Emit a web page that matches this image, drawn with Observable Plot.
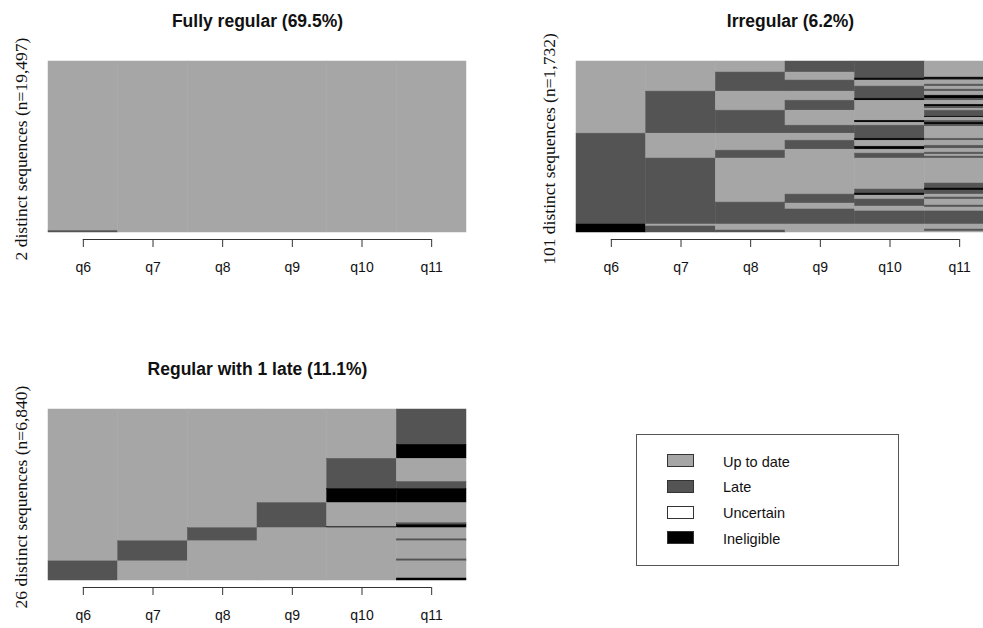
<!DOCTYPE html>
<html><head><meta charset="utf-8">
<script src="https://cdn.jsdelivr.net/npm/d3@7"></script>
<script src="https://cdn.jsdelivr.net/npm/@observablehq/plot@0.6"></script>
<style>
body{margin:0;background:#fff;}
#chart{position:relative;width:983px;height:628px;overflow:hidden;background:#fff;font-family:"Liberation Sans",Arial,sans-serif;}
#chart svg{position:absolute;overflow:visible;background:transparent;}
.legend{position:absolute;left:636px;top:434px;width:263px;height:132px;box-sizing:border-box;border:1px solid #555;}
.legend .sw{position:absolute;left:30px;width:27px;height:13px;box-sizing:border-box;border:1px solid #333;}
.legend .lb{position:absolute;left:86px;font-size:14.5px;color:#111;line-height:16px;}
</style></head><body><div id="chart"></div>
<script>
// ---- categories ----
const columns = ["q6", "q7", "q8", "q9", "q10", "q11"];
const stateCodes = ["U", "L", "X", "I"];
const stateNames = ["Up to date", "Late", "Uncertain", "Ineligible"];
const stateColors = ["#a6a6a6", "#545454", "#ffffff", "#000000"];

// ---- panel 1: Fully regular (sequences listed top to bottom) ----
const fullyTitle = "Fully regular (69.5%)";
const fullyDistinct = 2;
const fullySeqs = ["UUUUUU", "LUUUUU"];
const fullyCounts = [19327, 170];

// ---- panel 2: Irregular ----
const irregTitle = "Irregular (6.2%)";
const irregDistinct = 101;
const irregSeqs = [
  "UUULLU","UULULU","UULULI","UULUII","UULUIL","UULLUU","UULLUL","UULLLU","UULLLL",
  "ULUULU","ULUULI","ULUUIL","ULULUU","ULULUI","ULULUL","ULULUU","ULLUUL","ULLUUI",
  "ULLUUU","ULLUIL","ULLUUI","ULLUUL","ULLLLL","ULLLLU",
  "LUUULU","LUUUIL","LUULUU","LUULUL","LUULIL","LUULIU","LUUUUU","LULUUU","LULUUL",
  "LULULL","LULULU","LULULL",
  "LLUUUU","LLUUUL","LLUUUI","LLUULI","LLUULL","LLUUIL","LLULIU","LLULUU","LLULUL",
  "LLULLU","LLLLLU","LLLULU","LLLULL","LLLUUL","LLLUUU","LLLLUU","LLLLLL",
  "IUUUUU","ILUUUU","ILUUUL","ILLUUL","ILLUUU"
];
const irregCounts = [
  112,51,10,10,10,41,20,31,20,
  41,31,20,41,20,20,20,61,10,
  31,20,20,10,10,71,
  51,20,51,10,20,10,10,20,10,
  10,20,20,
  253,51,10,10,31,10,10,20,20,
  31,10,20,10,10,20,20,132,
  20,31,10,10,10
];

// ---- panel 3: Regular with 1 late ----
const lateTitle = "Regular with 1 late (11.1%)";
const lateDistinct = 26;
const lateSeqs = ["UUUUUL","UUUUUI","UUUULU","UUUULL","UUUUII","UUULUU","UUULUL","UUULUI","UUULII",
                  "UULUUU","UULUUL","ULUUUU","ULUUUL","LUUUUU","LUUUUI"];
const lateCounts = [1411,563,925,282,563,805,80,80,40,443,80,724,80,684,80];

const chart = document.getElementById("chart");

function panel(title, nDistinct, seqs, counts, left, top, titleShift) {
  const n = d3.sum(counts);
  // stack sequences from the top down, then merge vertical runs per column
  const cells = [];
  columns.forEach((col, i) => {
    let cum = n;
    let run = null;
    seqs.forEach((s, k) => {
      const y2 = cum, y1 = cum - counts[k];
      cum = y1;
      const st = s[i];
      if (run && run.state === st) { run.y1 = y1; }
      else { run = {i, y1, y2, state: st}; cells.push(run); }
    });
  });
  const label = `${nDistinct} distinct sequences (n=${d3.format(",")(n)})`;
  const svg = Plot.plot({
    width: 490, height: 300,
    marginLeft: 48, marginRight: 24, marginTop: 61, marginBottom: 68,
    x: {domain: [-0.5, 5.5], axis: null},
    y: {domain: [0, n], axis: null},
    color: {domain: stateCodes, range: stateColors},
    style: {background: "transparent", overflow: "visible"},
    marks: [
      Plot.rect(cells, {x1: d => d.i - 0.5, x2: d => d.i + 0.5, y1: "y1", y2: "y2",
        fill: "state", stroke: "state", strokeWidth: 0.5}),
      Plot.ruleY([0], {x1: 0, x2: 5, dy: 7, stroke: "#333", strokeWidth: 1}),
      Plot.axisX(d3.range(columns.length), {
        tickFormat: i => columns[i], tickSize: 8, tickPadding: 14.5, dy: 7,
        fontSize: 14, label: null, stroke: "#333", fill: "#111",
        fontFamily: "Liberation Sans, Arial, sans-serif"
      }),
      Plot.text([title], {frameAnchor: "top", lineAnchor: "bottom", dy: -35, dx: titleShift,
        fontSize: 17.5, fontWeight: "bold", fill: "#111",
        fontFamily: "Liberation Sans, Arial, sans-serif"}),
      Plot.text([label], {frameAnchor: "left", textAnchor: "middle", rotate: -90, dx: -27, dy: 2,
        fontSize: 17.5, fill: "#111", fontFamily: "Liberation Serif, Times New Roman, serif"})
    ]
  });
  svg.style.left = left + "px";
  svg.style.top = top + "px";
  chart.appendChild(svg);
}

panel(fullyTitle, fullyDistinct, fullySeqs, fullyCounts, 0, 0, 0);
panel(irregTitle, irregDistinct, irregSeqs, irregCounts, 528, 0, 5);
panel(lateTitle, lateDistinct, lateSeqs, lateCounts, 0, 348, 0);

// legend
const lg = document.createElement("div");
lg.className = "legend";
stateNames.forEach((name, k) => {
  const sw = document.createElement("div");
  sw.className = "sw";
  sw.style.top = (19 + k * 25.8) + "px";
  sw.style.background = stateColors[k];
  const lb = document.createElement("div");
  lb.className = "lb";
  lb.style.top = (19 + k * 25.8 - 0.5) + "px";
  lb.textContent = name;
  lg.appendChild(sw); lg.appendChild(lb);
});
chart.appendChild(lg);
</script></body></html>
